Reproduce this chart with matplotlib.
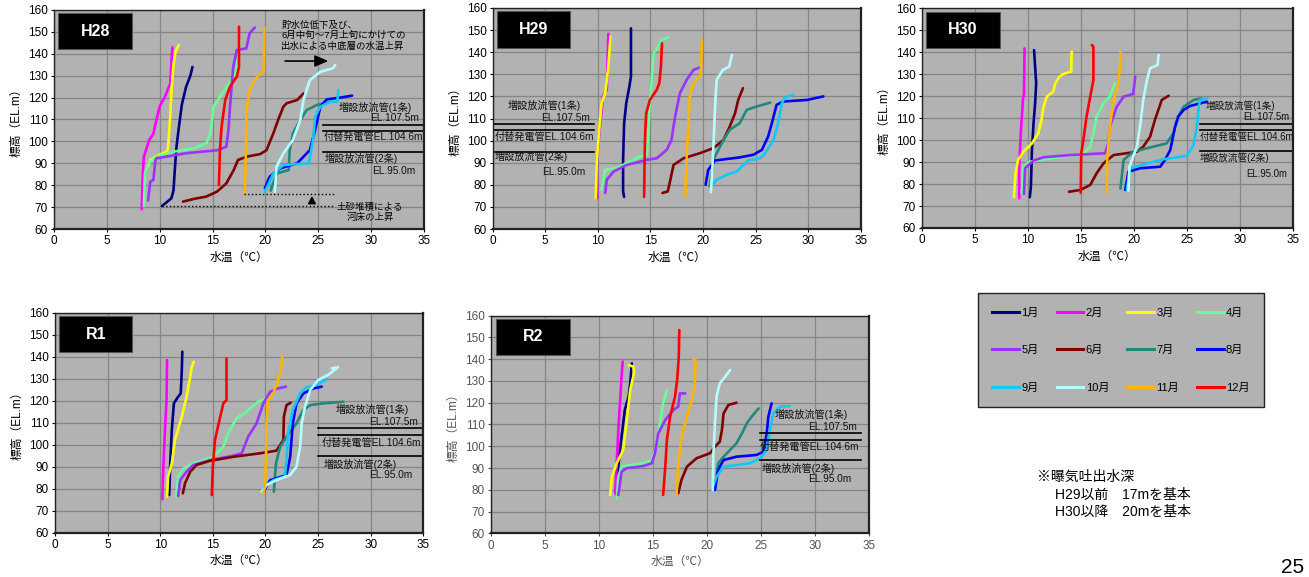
"""Monthly water-temperature profiles (H28-R2) redrawn from the report figure."""

import matplotlib

matplotlib.use("Agg")
import matplotlib.pyplot as plt
from matplotlib.lines import Line2D
from matplotlib.patches import Rectangle

plt.rcParams["font.family"] = ["Liberation Sans", "Noto Sans CJK JP", "DejaVu Sans"]

W, H = 1309, 577

MONTHS = ["1月", "2月", "3月", "4月", "5月", "6月", "7月", "8月", "9月", "10月", "11月", "12月"]
COLORS = ["#000080", "#ff00ff", "#ffff00", "#66ff99", "#9933ff", "#800000",
          "#1f8a7a", "#0000ff", "#12c8f5", "#b4ffff", "#ffb400", "#ff0000"]

# (temperature degC, elevation EL.m) per month
H28 = {
    "1月": ([10.2, 10.6, 11.1, 11.3, 11.4, 11.5, 11.6, 11.8, 12.1, 12.5, 12.9, 13.1],
           [70.5, 72, 74, 77.5, 85, 92, 98, 106, 117, 125, 130, 134]),
    "2月": ([8.3, 8.35, 8.4, 8.5, 8.8, 9.0, 9.4, 9.7, 10.0, 10.5, 11.0, 11.1, 11.2],
           [69, 78, 85, 93, 97.5, 100.5, 103.5, 110, 116, 120.5, 126.5, 135, 143]),
    "3月": ([8.8, 9.1, 9.6, 10.0, 10.7, 10.8, 10.9, 11.0, 11.1, 11.3, 11.5, 11.8],
           [88, 91.5, 93, 94, 95.3, 97.6, 105, 112, 122, 135, 141, 144]),
    "4月": ([8.5, 8.6, 8.9, 9.7, 11.3, 13.2, 14.4, 14.8, 15.1, 15.7, 16.6, 17.3, 17.4, 17.6],
           [70.5, 85.4, 90, 93, 95.3, 96.8, 99.1, 103.7, 115.9, 120.4, 126.5, 132.6, 140, 146]),
    "5月": ([8.9, 9.1, 9.4, 9.6, 9.7, 12.5, 15.5, 16.3, 16.5, 16.65, 16.95, 17.3, 18.2, 18.5, 19.0],
           [73, 81.6, 82.4, 91.5, 92.3, 94.6, 96, 97.6, 105, 116, 134, 141.7, 142.5, 149.3, 152]),
    "6月": ([12.2, 13.2, 14.4, 15.4, 16.3, 17.0, 17.4, 18.2, 19.5, 20.1, 20.75, 21.2, 21.7, 22.0, 23.0, 23.6],
           [72.5, 73.7, 74.8, 77, 80.8, 86.9, 91.5, 93, 94.2, 96, 103.7, 109.8, 115.9, 117.4, 118.9, 121.9]),
    "7月": ([20.5, 20.6, 21.1, 22.2, 22.3, 22.6, 23.3, 23.9, 24.85, 26.1],
           [77.5, 79.3, 85.4, 86.9, 96, 103.7, 109.8, 114.3, 116.6, 118.1]),
    "8月": ([19.95, 20.4, 21.4, 23.0, 24.2, 24.7, 25.2, 25.8, 27.1, 28.2],
           [78.6, 83.9, 87.7, 90, 96, 105.2, 115.9, 119.2, 120, 120.9]),
    "9月": ([19.95, 20.75, 21.7, 24.1, 24.5, 24.7, 25.2, 26.1, 26.8, 26.9],
           [77, 85.4, 89.2, 90, 100.6, 111.3, 115.9, 118.1, 118.1, 123.5]),
    "10月": ([20.9, 21.05, 21.7, 22.6, 23.3, 23.6, 24.2, 25.2, 26.4, 26.6],
            [77, 88.5, 94.6, 100.6, 109.8, 118.9, 128, 131.8, 133.4, 134.9]),
    "11月": ([18.05, 18.15, 18.2, 18.5, 19.2, 19.85, 19.9],
            [76, 96, 112.8, 123.5, 129.6, 131.8, 152]),
    "12月": ([15.6, 15.7, 15.85, 16.2, 16.65, 17.3, 17.5, 17.5],
            [80, 96, 106.7, 118.9, 125, 129.6, 134.1, 152.4]),
}

H29 = {
    "1月": ([12.5, 12.4, 12.4, 12.5, 12.7, 13.0, 13.15, 13.15],
           [74.5, 77, 91.3, 107.9, 116.9, 124.5, 129, 150.8]),
    "2月": ([9.95, 9.9, 10.2, 10.5, 10.85, 11.0], [74, 91.3, 106.4, 120, 123, 148.3]),
    "3月": ([9.8, 9.9, 10.15, 10.35, 10.7, 11.0, 11.2], [74, 91.3, 106.4, 116.9, 121.4, 133.5, 147]),
    "4月": ([10.35, 10.7, 11.8, 12.75, 14.0, 14.65, 14.8, 14.9, 15.1, 15.3, 15.75, 16.05, 16.7],
           [78, 86.8, 87.6, 89.8, 92.8, 93.6, 103.4, 113.9, 126, 139.5, 142.5, 145.5, 146.7]),
    "5月": ([10.7, 10.85, 11.5, 12.75, 14.65, 15.6, 16.55, 17.0, 17.35, 17.8, 18.45, 19.1, 19.65],
           [76.3, 82.3, 86, 89, 91.3, 92, 95.8, 100.3, 110.8, 121.4, 127.5, 132, 133]),
    "6月": ([16.15, 16.65, 16.9, 17.2, 18.15, 19.7, 21.0, 21.95, 22.55, 23.05, 23.35, 23.8],
           [76.3, 77, 82.3, 89, 92, 94.3, 96.6, 100.3, 106.4, 112.4, 118.4, 123.7]),
    "7月": ([20.65, 21.0, 21.3, 21.95, 22.55, 23.5, 24.15, 25.1, 26.4],
           [79.3, 91.3, 94.3, 100.3, 104.9, 107.9, 113.9, 115.4, 117.2]),
    "8月": ([20.25, 20.5, 21.15, 23.5, 24.8, 25.6, 26.2, 26.55, 27.0, 27.65, 29.9, 31.45],
           [80, 86.8, 91, 92.4, 93.6, 95.8, 101.9, 107.9, 116.2, 117.7, 118.4, 120]),
    "9月": ([20.75, 21.3, 22.25, 23.2, 24.3, 25.45, 25.9, 26.7, 27.15, 27.5, 27.8, 28.6],
           [79.3, 82.3, 84.5, 86, 91, 92, 94.3, 100.3, 107.9, 116.9, 119.6, 120.7]),
    "10月": ([20.75, 20.9, 21.05, 21.15, 21.3, 21.9, 22.5, 22.75],
            [76.6, 88.3, 103.4, 115.4, 127.5, 132, 133.5, 138.8]),
    "11月": ([18.3, 18.45, 18.6, 18.7, 18.95, 19.4, 19.8, 19.9],
            [74.8, 92.8, 106.4, 118.4, 124.5, 127.5, 129.7, 145.5]),
    "12月": ([14.4, 14.45, 14.5, 14.6, 14.95, 15.6, 15.85, 16.0, 16.1],
            [74.5, 91.3, 103.4, 112.4, 118.4, 123, 126, 133.5, 144]),
}

H30 = {
    "1月": ([10.2, 10.3, 10.4, 10.55, 10.7, 10.8, 10.7, 10.6],
           [74, 78.8, 95.5, 107.6, 116.8, 125.9, 133.4, 141]),
    "2月": ([9.2, 9.2, 9.35, 9.55, 9.65, 9.7], [73.5, 87.9, 103.1, 118.3, 121.3, 141.8]),
    "3月": ([8.7, 8.85, 9.1, 9.6, 10.4, 11.0, 11.3, 11.5, 11.8, 12.4, 12.6, 13.0, 13.35, 14.1, 14.15],
           [74, 84.9, 91, 94.7, 98.5, 103.1, 109.2, 115.2, 119.8, 122, 125.9, 128.9, 130.1, 131.2, 140.3]),
    "4月": ([9.45, 9.6, 10.2, 11.5, 14.0, 15.25, 15.9, 16.2, 16.5, 17.15, 17.75, 18.25],
           [75.8, 87.9, 90.2, 91.3, 92.8, 93.7, 97, 103.1, 110.7, 116.8, 119.8, 125.9]),
    "5月": ([9.65, 9.75, 10.55, 11.5, 14.0, 17.3, 17.6, 17.75, 18.4, 19.05, 19.95, 20.15],
           [75.5, 87.2, 90.7, 92.2, 93.2, 94, 98.5, 106.1, 115.2, 119.8, 121, 128.9]),
    "6月": ([13.9, 14.95, 15.9, 16.5, 17.15, 18.1, 20.3, 20.9, 21.55, 22.0, 22.65, 23.3],
           [76.5, 77.3, 79.6, 84.9, 89.4, 93.2, 94.7, 97, 101.6, 109.2, 118.3, 120.2]),
    "7月": ([18.75, 19.05, 19.95, 21.25, 23.1, 23.75, 24.2, 24.7, 25.65, 26.4],
           [78, 91, 94.7, 96.3, 98.5, 103.1, 110.7, 115.2, 118.3, 119]),
    "8月": ([19.2, 19.5, 20.6, 22.5, 22.95, 23.45, 23.9, 24.2, 24.7, 25.3, 26.9],
           [77.3, 85.6, 87.2, 87.9, 91, 95.5, 106.1, 110.7, 113.7, 115.5, 117.5]),
    "9月": ([19.35, 19.65, 21.25, 22.8, 25.0, 25.65, 25.95, 26.1, 26.25, 26.95],
           [77.3, 87.2, 89.4, 91.3, 92.8, 97.8, 106.1, 113.7, 118.3, 119]),
    "10月": ([19.5, 19.6, 19.95, 20.3, 20.6, 20.9, 21.25, 21.55, 22.25, 22.35],
            [77, 87.9, 92.5, 97, 106.1, 118.3, 127.4, 132.7, 134.2, 138.8]),
    "11月": ([17.45, 17.5, 17.75, 18.1, 18.55, 18.7, 18.75],
            [76.1, 91, 106.1, 118.3, 125.9, 133.4, 140.3]),
    "12月": ([15.0, 15.05, 15.25, 15.55, 15.9, 16.2, 16.2, 16.05],
            [76.1, 94, 100.1, 110.7, 119.8, 127.4, 142.5, 143.3]),
}

R1 = {
    "1月": ([10.85, 10.95, 11.1, 11.3, 11.7, 11.95, 12.05, 12.1],
           [77.1, 91.5, 106.7, 118.8, 121.8, 123.3, 133.9, 142.3]),
    "2月": ([10.2, 10.3, 10.45, 10.6, 10.65], [75.2, 90, 106.7, 120.3, 138.5]),
    "3月": ([10.65, 10.75, 11.1, 11.4, 12.05, 12.5, 12.85, 13.0, 13.2],
           [76.4, 85.5, 91.5, 102.1, 112.7, 121.8, 130.9, 135.5, 137.7]),
    "4月": ([11.5, 11.7, 12.2, 13.15, 15.05, 16.0, 16.45, 17.25, 18.2, 19.3, 20.45],
           [76.4, 85.5, 89.2, 91.5, 94.5, 99.1, 105.2, 112, 115, 119.5, 121.8]),
    "5月": ([11.7, 11.9, 12.5, 13.15, 14.75, 16.95, 17.75, 18.35, 19.15, 19.8, 20.45, 21.2, 21.95],
           [76.7, 83.9, 87.7, 90.8, 93, 95, 96.1, 103.6, 109.7, 118.8, 124.1, 125.6, 126.4]),
    "6月": ([12.15, 12.35, 12.85, 13.45, 14.75, 16.95, 19.5, 21.05, 21.7, 21.75, 22.0, 22.4],
           [77.9, 82.4, 87.7, 90.8, 92.7, 94.5, 96.1, 97.3, 102.1, 112.7, 118, 119.1]),
    "7月": ([20.8, 21.0, 21.4, 22.0, 22.95, 23.6, 24.25, 25.5, 27.4],
           [78.6, 91.5, 99.1, 103.6, 109.7, 115.8, 118, 118.8, 119.5]),
    "8月": ([19.8, 20.45, 22.0, 22.35, 22.6, 22.95, 23.6, 24.55, 25.35],
           [78.6, 83.9, 86.2, 94.5, 109.7, 118.8, 123.3, 125.6, 126.4]),
    "9月": ([19.8, 20.75, 21.85, 22.0, 22.15, 22.6, 23.3, 23.9, 24.85, 25.8],
           [80.2, 83.9, 85.5, 93, 105.2, 115.8, 123.3, 126.1, 127.1, 129.7]),
    "10月": ([19.65, 20.1, 21.05, 22.35, 22.95, 23.3, 23.45, 23.75, 24.25, 25.0, 25.95, 26.9, 26.3],
            [78.6, 81.7, 83.9, 86.2, 90, 99.1, 109.7, 117.3, 124.8, 129.4, 131.7, 135.2, 134.7]),
    "11月": ([19.8, 19.95, 20.05, 20.1, 20.25, 20.75, 21.4, 21.6],
            [78.2, 80.9, 94.5, 109.7, 120.3, 123.3, 132.4, 140]),
    "12月": ([14.9, 15.0, 15.2, 15.7, 16.0, 16.3, 16.3],
            [77.1, 90, 102.1, 112.7, 118.8, 120.3, 139.2]),
}

R2 = {
    "1月": ([11.65, 11.8, 11.95, 12.1, 12.4, 12.75, 12.9, 13.05],
           [77.6, 90.6, 98.3, 104.4, 116.7, 122.8, 128.9, 138.1]),
    "2月": ([11.5, 11.65, 11.8, 11.95, 12.1, 12.2], [78.4, 92.2, 107.5, 119.7, 132, 138.9]),
    "3月": ([11.05, 11.2, 11.65, 12.25, 12.55, 12.9, 13.25, 13.2, 12.75],
           [77.6, 86, 92.2, 98.3, 110.5, 125.8, 133.5, 136.6, 137.3]),
    "4月": ([11.65, 11.8, 12.1, 12.9, 14.1, 14.9, 15.35, 15.65, 15.95, 16.3],
           [76.1, 86, 90.6, 91.4, 92.2, 93.7, 99.8, 110.5, 119.7, 125.8]),
    "5月": ([11.8, 12.1, 12.55, 14.1, 14.9, 15.2, 15.5, 16.15, 16.9, 17.35, 17.5, 18.0],
           [77.6, 88.3, 89.9, 90.9, 92.2, 96.8, 105.9, 112.1, 116.7, 118.2, 124.3, 124.3]),
    "6月": ([17.35, 17.65, 18.15, 19.05, 20.3, 20.75, 21.2, 21.4, 21.55, 22.0, 22.75],
           [78.4, 84.5, 90.6, 94.5, 96.8, 99.8, 102.1, 107.5, 115.1, 119, 120]),
    "7月": ([20.75, 21.05, 21.55, 22.15, 22.75, 23.25, 23.7, 24.15, 24.8],
           [80.7, 92.2, 95.2, 98.3, 101.4, 105.9, 110.5, 113.6, 117.4]),
    "8月": ([20.75, 21.05, 21.55, 22.75, 24.6, 25.25, 25.55, 25.7, 26.0],
           [79.9, 89.1, 93.7, 95.2, 96, 97.5, 105.9, 113.6, 119.7]),
    "9月": ([20.45, 20.9, 21.55, 22.75, 24.0, 24.95, 25.55, 25.85, 26.15, 26.8, 27.7],
           [79.9, 86, 90.6, 91.4, 92.2, 94.5, 98.3, 107.5, 115.1, 118.2, 118.5]),
    "10月": ([20.55, 20.6, 20.75, 20.9, 21.2, 21.7, 22.15], [79.9, 95.2, 110.5, 122.8, 128.9, 132, 135]),
    "11月": ([17.2, 17.35, 17.65, 18.15, 18.6, 18.9, 18.95, 18.75],
            [77.6, 92.2, 104.4, 113.6, 121.3, 128.9, 139.6, 139.9]),
    "12月": ([15.95, 16.15, 16.3, 16.6, 17.05, 17.25, 17.4, 17.45],
            [77.6, 90.6, 102.9, 113.6, 122.8, 130.4, 141.2, 153.4]),
}

PIPE_ELEV = [107.5, 104.6, 95.0]
R2_PIPE_DRAWN = [106.2, 102.9, 93.6]   # R2 source figure has the lines slightly lower
PIPE_LABELS = ["増設放流管(1条)", "EL.107.5m", "付替発電管EL.104.6m", "増設放流管(2条)", "EL.95.0m"]
LABEL_HA = ["left", "right", "left", "left", "right"]

# panel name, data, axes box in pixels (left, top, right, bottom), pipe line x-range, label spots
PANELS = [
    ("H28", H28, (54, 10, 424, 229), (25.4, 35), PIPE_ELEV,
     [(26.9, 115.7), (34.5, 110.7), (25.5, 102), (25.6, 92.3), (34.2, 86.6)]),
    ("H29", H29, (492.7, 8, 860.7, 229), (0, 9.6), PIPE_ELEV,
     [(1.4, 115.7), (9.3, 110.3), (0.15, 101.6), (0.2, 92.9), (8.8, 86)]),
    ("H30", H30, (921.7, 8.3, 1292.7, 228), (26.3, 35), PIPE_ELEV,
     [(26.8, 115.8), (34.7, 110.7), (26.2, 101.6), (26.2, 92), (34.5, 84.5)]),
    ("R1", R1, (55, 312.7, 423.3, 532.7), (25.0, 35), PIPE_ELEV,
     [(26.7, 116.2), (34.5, 110.5), (25.3, 101), (25.5, 91.2), (34, 86.2)]),
    ("R2", R2, (491, 315.7, 868.7, 533.3), (24.9, 34.3), R2_PIPE_DRAWN,
     [(26.3, 114.6), (33.9, 109), (24.9, 99.8), (25.1, 89.9), (33.4, 84.8)]),
]

BG = "#b2b2b2"
GRID = "#858585"


def add_px_axes(fig, box):
    left, top, right, bottom = box
    return fig.add_axes([left / W, 1 - bottom / H, (right - left) / W, (bottom - top) / H])


fig = plt.figure(figsize=(W / 100, H / 100), dpi=100)

for name, data, box, (px0, px1), pipe_y, spots in PANELS:
    ax = add_px_axes(fig, box)
    ax.set_facecolor(BG)
    ax.set_xlim(0, 35)
    ax.set_ylim(60, 160)
    ax.set_xticks(range(0, 36, 5))
    ax.set_yticks(range(60, 161, 10))
    ax.grid(True, color=GRID, lw=0.9)
    ax.set_axisbelow(True)
    tick_col = "#555555" if name == "R2" else "black"
    ax.tick_params(labelsize=8.5, length=2.5, width=0.8, pad=2, colors=tick_col)
    for side, sp in ax.spines.items():
        sp.set_color("#222222")
        sp.set_linewidth(1.6 if side in ("right", "bottom") else 1.0)
    ax.set_xlabel("水温（℃）", fontsize=8.5, labelpad=3, color=tick_col)
    ax.set_ylabel("標高（EL.m）", fontsize=8.5, labelpad=4, color=tick_col)

    for month, color in zip(MONTHS, COLORS):
        t, z = data[month]
        ax.plot(t, z, color=color, lw=1.9, solid_joinstyle="round", solid_capstyle="round")

    for y in pipe_y:
        ax.plot([px0, px1], [y, y], color="black", lw=1.2)
    lab_size = 6.9 if name == "H30" else 7.3
    for (lx, ly), text, ha in zip(spots, PIPE_LABELS, LABEL_HA):
        ax.text(lx, ly, text, ha=ha, va="center", fontsize=lab_size, color="#111111")

    ax.add_patch(Rectangle((0.012, 0.82), 0.198, 0.165, transform=ax.transAxes,
                           facecolor="black", edgecolor="#555555", lw=0.8, zorder=5))
    ax.text(0.111, 0.9025, name, transform=ax.transAxes, ha="center", va="center",
            color="white", fontsize=11.5, fontweight="bold", zorder=6)

    if name == "H28":
        ax.text(21.5, 148.3, "貯水位低下及び、\n6月中旬～7月上旬にかけての\n出水による中底層の水温上昇",
                fontsize=6.8, ha="left", va="center", linespacing=1.15)
        ax.annotate("", xy=(26.2, 136.7), xytext=(21.6, 136.7),
                    arrowprops=dict(arrowstyle="-|>,head_length=0.8,head_width=0.35",
                                    color="black", lw=1.2))
        ax.plot([18.0, 26.5], [76, 76], color="black", lw=1.0, ls=":")
        ax.plot([10.2, 26.6], [70.5, 70.5], color="black", lw=1.0, ls=":")
        ax.annotate("", xy=(24.4, 76.3), xytext=(24.4, 70.8),
                    arrowprops=dict(arrowstyle="-|>,head_length=0.45,head_width=0.25",
                                    color="black", lw=1.0))
        ax.text(29.9, 67.6, "土砂堆積による\n河床の上昇", fontsize=6.8, ha="center", va="center",
                linespacing=1.15)

# legend box
handles = [Line2D([], [], color=c, lw=2.2) for c in COLORS]
order = [0, 4, 8, 1, 5, 9, 2, 6, 10, 3, 7, 11]   # row-major layout with ncol=4
leg = fig.legend([handles[i] for i in order], [MONTHS[i] for i in order], ncol=4,
                 loc="upper left", bbox_to_anchor=(978 / W, 1 - 294 / H, (1264 - 978) / W, 0.001),
                 mode="expand", borderaxespad=0, fontsize=8, handlelength=2.4, handletextpad=0.2,
                 labelspacing=2.45, borderpad=1.3, fancybox=False, framealpha=1,
                 facecolor=BG, edgecolor="#222222")
leg.get_frame().set_linewidth(1.0)

fig.text(1037 / W, 1 - 477 / H, "※曝気吐出水深", fontsize=10, va="center")
fig.text(1055 / W, 1 - 494.5 / H, "H29以前　17mを基本", fontsize=10, va="center")
fig.text(1055 / W, 1 - 512 / H, "H30以降　20mを基本", fontsize=10, va="center")
fig.text(1281 / W, 0.0, "25", fontsize=15, va="bottom", ha="left")

fig.savefig("out.png", dpi=100)
